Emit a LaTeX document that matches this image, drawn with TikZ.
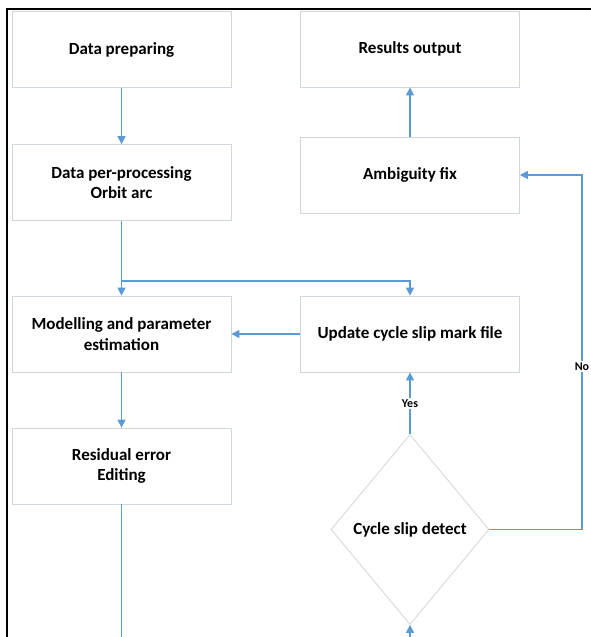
\documentclass[tikz,border=0pt]{standalone}
\usepackage{fontspec}
\setmainfont{Carlito}
\usetikzlibrary{shapes.geometric,arrows.meta,shadows}
\definecolor{flow}{RGB}{91,155,213}
\definecolor{boxc}{RGB}{208,214,222}
\begin{document}
\begin{tikzpicture}[x=1pt,y=-1pt,
  box/.style={draw=boxc, line width=0.8pt, fill=white, minimum width=219pt, minimum height=76pt,
    inner sep=0pt, align=center, font=\bfseries\fontsize{17}{20.5}\selectfont,
    drop shadow={shadow xshift=0.8pt, shadow yshift=-0.9pt, fill=black!20, opacity=0.5}},
  decision/.style={diamond, draw=boxc, line width=0.8pt, fill=white, minimum width=158pt, minimum height=190pt,
    inner sep=0pt, align=center, font=\bfseries\fontsize{17}{20.5}\selectfont},
  arr/.style={draw=flow, line width=1.4pt, -{Triangle[width=8pt,length=8pt]}},
  flowline/.style={draw=flow, line width=1.4pt},
  lbl/.style={fill=white, inner sep=1.5pt, font=\bfseries\fontsize{12}{14}\selectfont}
]
\useasboundingbox (0,0) rectangle (591,637);
\clip (0,0) rectangle (591,637);
\fill[white] (0,0) rectangle (591,637);

\node[box] (prep) at (121.5,49.5) {Data preparing};
\node[box] (proc) at (121.5,182.5) {Data per-processing\\Orbit arc};
\node[box] (model) at (121.5,334) {Modelling and parameter\\estimation};
\node[box] (resid) at (121.5,466) {Residual error\\Editing};
\node[box] (results) at (410,49) {Results output};
\node[box] (ambig) at (410,175) {Ambiguity fix};
\node[box] (update) at (410,334) {Update cycle slip mark file};
\node[decision] (detect) at (410,529.5) {Cycle slip detect};

\coordinate (split) at (121.5,281);
\coordinate (turn) at (582,529.5);
\coordinate (bl) at (121.5,650);
\coordinate (br) at (410,650);

\draw[arr] (prep.south) -- (proc.north);
\draw[arr] (proc.south) -- (model.north);
\draw[arr] (split) -| (update.north);
\draw[arr] (update.west) -- (model.east);
\draw[arr] (model.south) -- (resid.north);
\draw[flowline] (resid.south) -- (bl);
\draw[arr] (br) -- (detect.south);
\draw[arr] (detect.north) -- node[lbl] (yes) {Yes} (update.south);
\draw[arr] (detect.east) -- (turn) |- node[lbl, pos=0.23] (no) {No} (ambig.east);
\draw[arr] (ambig.north) -- (results.south);

\draw[black, line width=2.6pt] (7,640) -- (7,9) -- (595,9);
\end{tikzpicture}
\end{document}
